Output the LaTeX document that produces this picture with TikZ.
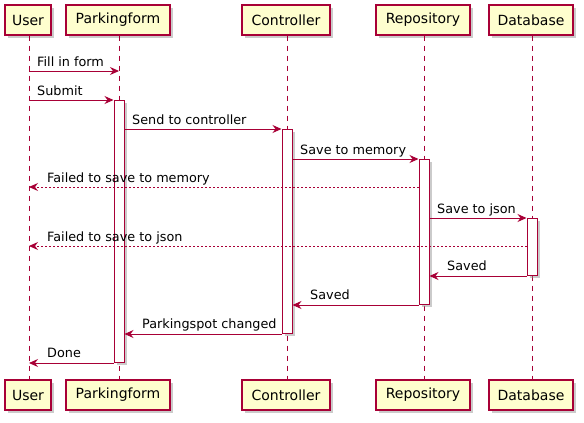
\documentclass[tikz,border=0pt]{standalone}
\usepackage{fontspec}
\setmainfont{DejaVu Sans}
\usetikzlibrary{arrows.meta,shadows}
\definecolor{pfill}{HTML}{FEFECE}
\definecolor{pline}{HTML}{A80036}
\tikzset{
  pbox/.style={draw=pline, line width=1.3pt, fill=pfill, minimum height=30pt, inner sep=0pt,
    font=\fontsize{14}{16}\selectfont,
    drop shadow={shadow xshift=3pt, shadow yshift=-3pt, fill=black!45, opacity=0.45}},
  actbox/.style={draw=pline, line width=1pt, fill=white, minimum width=10pt, inner sep=0pt, anchor=north,
    drop shadow={shadow xshift=3pt, shadow yshift=-2pt, fill=black!45, opacity=0.45}},
  lifeline/.style={draw=pline, line width=1pt, dash pattern=on 5pt off 5pt},
  msg/.style={draw=pline, line width=1pt, -{Stealth[length=9pt,width=8pt,inset=3pt]}},
  ret/.style={msg, dash pattern=on 2pt off 2pt},
  lbl/.style={anchor=base west, inner sep=0pt, font=\fontsize{12.8}{15}\selectfont}
}
\begin{document}
\begin{tikzpicture}[x=1pt,y=-1pt]
\useasboundingbox (0,0) rectangle (584,423);
% participants top
\node[pbox, minimum width=46pt] (ut) at (28,20) {User};
\node[pbox, minimum width=104pt] (pt) at (118,20) {Parkingform};
\node[pbox, minimum width=88pt] (ct) at (286,20) {Controller};
\node[pbox, minimum width=94pt] (rt) at (423,20) {Repository};
\node[pbox, minimum width=84pt] (dt) at (531,20) {Database};
% participants bottom
\node[pbox, minimum width=46pt] (ub) at (28,395) {User};
\node[pbox, minimum width=104pt] (pb) at (118,395) {Parkingform};
\node[pbox, minimum width=88pt] (cb) at (286,395) {Controller};
\node[pbox, minimum width=94pt] (rb) at (423,395) {Repository};
\node[pbox, minimum width=84pt] (db) at (531,395) {Database};
% lifelines
\coordinate (uL) at (29,0);
\coordinate (pL) at (119,0);
\coordinate (cL) at (287,0);
\coordinate (rL) at (424,0);
\coordinate (dL) at (532,0);
\draw[lifeline] (uL |- ut.south) -- (uL |- ub.north);
\draw[lifeline] (pL |- pt.south) -- (pL |- pb.north);
\draw[lifeline] (cL |- ct.south) -- (cL |- cb.north);
\draw[lifeline] (rL |- rt.south) -- (rL |- rb.north);
\draw[lifeline] (dL |- dt.south) -- (dL |- db.north);
% activation bars
\node[actbox, minimum height=262pt] (pa) at (119,100) {};
\node[actbox, minimum height=204pt] (ca) at (287,129) {};
\node[actbox, minimum height=145pt] (ra) at (424,159) {};
\node[actbox, minimum height=57pt] (da) at (532,218) {};
% messages
\draw[msg] (uL |- 0,71) -- (pL |- 0,71);
\node[lbl] (m1) at (37,66.5) {Fill in form};
\draw[msg] (uL |- 0,100) -- (pa.north west);
\node[lbl] (m2) at (37,95.5) {Submit};
\draw[msg] (pa.east |- 0,129) -- (ca.north west);
\node[lbl] (m3) at (132,124.5) {Send to controller};
\draw[msg] (ca.east |- 0,159) -- (ra.north west);
\node[lbl] (m4) at (300,154.5) {Save to memory};
\draw[ret] (ra.west |- 0,187) -- (uL |- 0,187);
\node[lbl] (m5) at (47,182.5) {Failed to save to memory};
\draw[msg] (ra.east |- 0,218) -- (da.north west);
\node[lbl] (m6) at (437,213.5) {Save to json};
\draw[ret] (da.west |- 0,246) -- (uL |- 0,246);
\node[lbl] (m7) at (47,241.5) {Failed to save to json};
\draw[msg] (da.south west) -- (ra.east |- da.south);
\node[lbl] (m8) at (447,270.5) {Saved};
\draw[msg] (ra.south west) -- (ca.east |- ra.south);
\node[lbl] (m9) at (310,299.5) {Saved};
\draw[msg] (ca.south west) -- (pa.east |- ca.south);
\node[lbl] (m10) at (142,328.5) {Parkingspot changed};
\draw[msg] (pa.south west) -- (uL |- pa.south);
\node[lbl] (m11) at (47,357.5) {Done};
\end{tikzpicture}
\end{document}
